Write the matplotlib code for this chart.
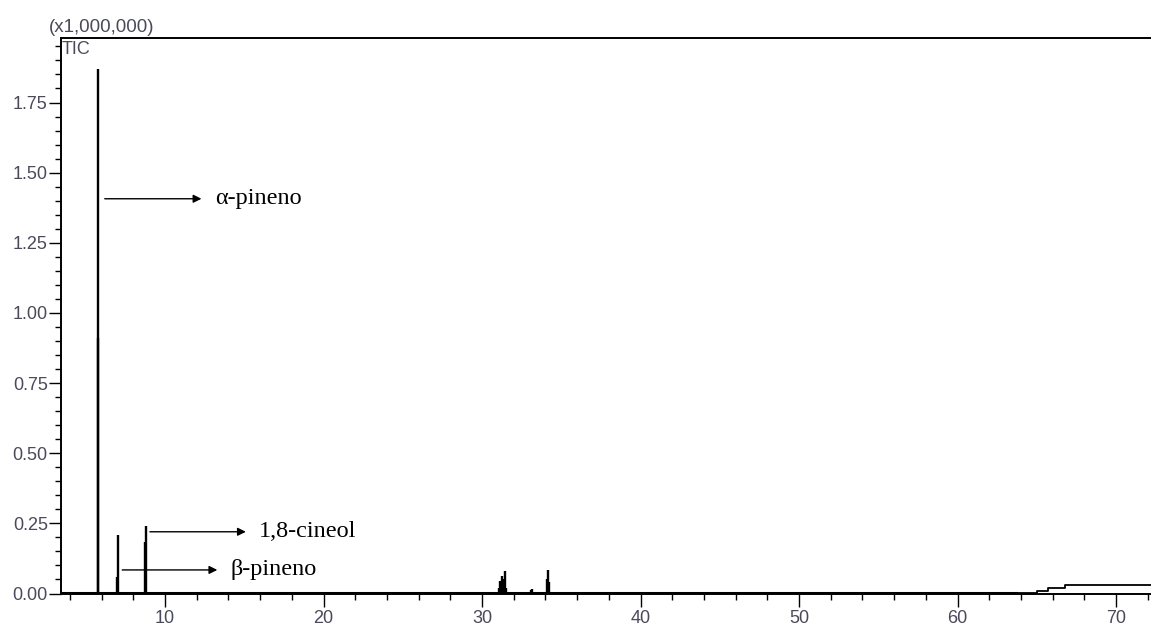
import matplotlib
matplotlib.use("Agg")
import matplotlib.pyplot as plt
from matplotlib.ticker import MultipleLocator, FormatStrFormatter

# --- data (retention time in min, intensity x1,000,000) ---
peak_times = [5.76, 5.80, 6.97, 7.01, 8.75, 8.79,
              31.05, 31.12, 31.20, 31.25, 31.32, 31.40, 31.45, 31.50,
              33.10, 33.18, 34.10, 34.16, 34.22]
peak_heights = [0.91, 1.87, 0.06, 0.21, 0.185, 0.24,
                0.02, 0.045, 0.035, 0.063, 0.04, 0.05, 0.08, 0.02,
                0.012, 0.015, 0.05, 0.085, 0.04]
baseline_times = [3.44, 63.7]
baseline_levels = [0.003, 0.003]
drift_times = [63.7, 65.0, 65.7, 66.8, 72.2]
drift_levels = [0.002, 0.009, 0.020, 0.030, 0.030]

labels = ["α-pineno", "1,8-cineol", "β-pineno"]
label_arrow_start = [6.2, 9.05, 7.3]
label_arrow_end = [12.3, 15.1, 13.3]
label_y = [1.407, 0.22, 0.084]

tick_font = "Liberation Sans"
tick_color = "#4a4a5a"

fig = plt.figure(figsize=(11.51, 6.33), dpi=100)
ax = fig.add_axes([61/1151, 1-593.5/633, 1-61/1151, (593.5-38)/633])

ax.plot(baseline_times, baseline_levels, color="black", lw=2.2)
ax.step(drift_times, drift_levels, where="post", color="black", lw=1.3)
ax.vlines(peak_times, 0, peak_heights, color="black", lw=1.7)

ax.set_xlim(3.44, 72.2)
ax.set_ylim(0, 1.98)

ax.spines["right"].set_visible(False)
for s in ["left", "bottom", "top"]:
    ax.spines[s].set_linewidth(1.4)

ax.xaxis.set_major_locator(MultipleLocator(10))
ax.xaxis.set_minor_locator(MultipleLocator(2))
ax.yaxis.set_major_locator(MultipleLocator(0.25))
ax.yaxis.set_minor_locator(MultipleLocator(0.05))
ax.yaxis.set_major_formatter(FormatStrFormatter("%.2f"))
ax.tick_params(axis="both", which="major", direction="out", length=9, width=1, colors="black",
               labelcolor=tick_color, labelsize=13)
ax.tick_params(axis="x", which="major", pad=3)
ax.tick_params(axis="y", which="major", pad=0.5)
ax.tick_params(axis="both", which="minor", direction="out", length=4.3, width=1)
for lab in ax.get_xticklabels() + ax.get_yticklabels():
    lab.set_fontfamily(tick_font)

fig.text(49/1151, 1-28/633, "(x1,000,000)", fontsize=13.5, family=tick_font,
         color=tick_color, va="center", ha="left")
fig.text(62/1151, 1-41/633, "TIC", fontsize=13, family=tick_font,
         color=tick_color, va="top", ha="left")

for name, xs, xe, y in zip(labels, label_arrow_start, label_arrow_end, label_y):
    ax.annotate("", xy=(xe, y), xytext=(xs, y),
                arrowprops=dict(arrowstyle="-|>", color="black", lw=1.0, mutation_scale=12,
                                shrinkA=0, shrinkB=0))
    ax.text(xe + 0.85, y, name, fontsize=17.5, family="Liberation Serif", va="center", ha="left")

fig.savefig("out.png", dpi=100)
